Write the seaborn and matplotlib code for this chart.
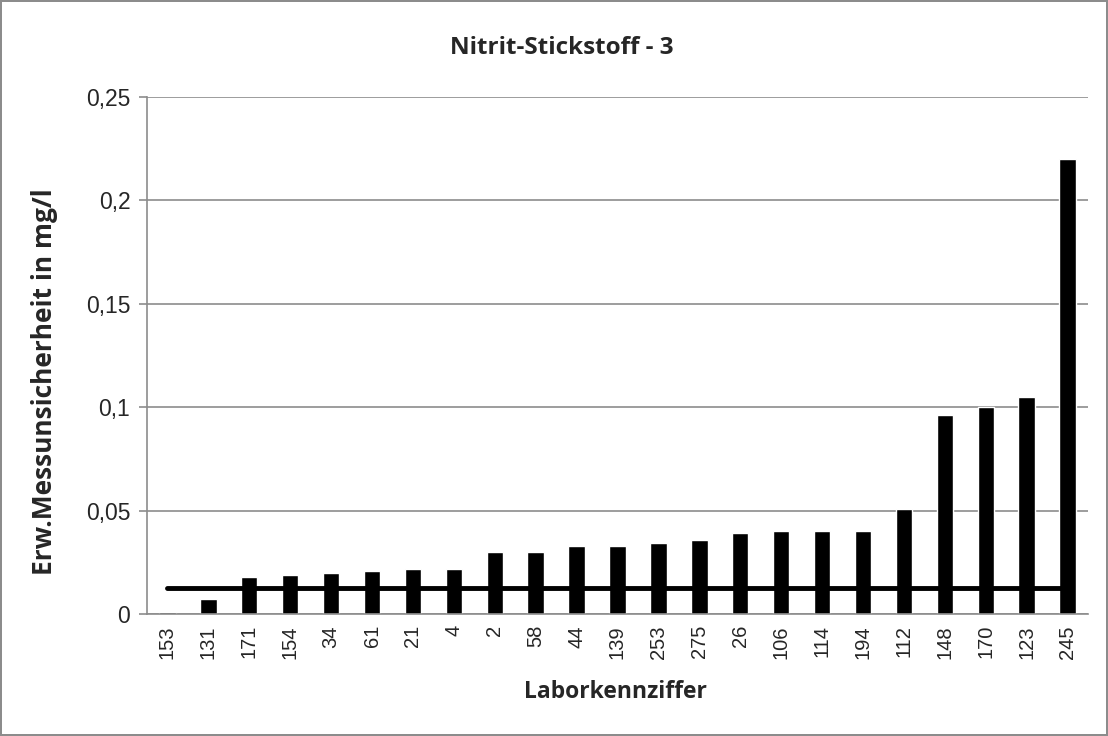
import pandas as pd
import matplotlib.pyplot as plt
import seaborn as sns

labs = ['153', '131', '171', '154', '34', '61', '21', '4', '2', '58', '44', '139',
        '253', '275', '26', '106', '114', '194', '112', '148', '170', '123', '245']
werte = [0.001, 0.0074, 0.018, 0.019, 0.020, 0.021, 0.0217, 0.022, 0.0298, 0.0298,
         0.0327, 0.0327, 0.0345, 0.036, 0.039, 0.040, 0.040, 0.040, 0.051, 0.096,
         0.100, 0.105, 0.220]
grenze = 0.0126
yticks = [0, 0.05, 0.1, 0.15, 0.2, 0.25]
ytick_labels = ['0', '0,05', '0,1', '0,15', '0,2', '0,25']

df = pd.DataFrame({'Labor': labs, 'Wert': werte})

sns.set_style('white')
plt.rcParams['font.family'] = ['Liberation Sans', 'DejaVu Sans']
bold_font = ['Open Sans', 'DejaVu Sans']

W, H = 1108, 736
fig = plt.figure(figsize=(W / 100, H / 100), dpi=100)
fig.patch.set_edgecolor('#8c8c8c')
fig.patch.set_linewidth(1.5)
ax = fig.add_axes([147 / W, 1 - 614 / H, 941 / W, 517 / H])

sns.barplot(data=df, x='Labor', y='Wert', order=labs, color='black', width=0.4,
            saturation=1, ax=ax)
ax.hlines(grenze, 0, len(labs) - 1, color='black', linewidth=3.5, zorder=1,
          capstyle='round')

ax.set_xlim(-0.5, len(labs) - 0.5)
ax.set_ylim(0, 0.25)
ax.set_yticks(yticks)
ax.set_yticklabels(ytick_labels, fontsize=16.5)
ax.yaxis.grid(True, color='#8c8c8c', linewidth=1.2)
ax.set_axisbelow(True)

# Excel-style ticks between categories
ax.set_xticks(range(len(labs)))
ax.set_xticklabels(labs, rotation=90, fontsize=14.5)
ax.tick_params(axis='x', length=0, pad=8)
ax.set_xticks([i - 0.5 for i in range(len(labs) + 1)], minor=True)
ax.tick_params(axis='x', which='minor', length=6, color='#8c8c8c', width=1.2)
ax.tick_params(axis='y', length=6, color='#8c8c8c', width=1.2, left=True, pad=6)

for s in ['top', 'right']:
    ax.spines[s].set_visible(False)
for s in ['left', 'bottom']:
    ax.spines[s].set_color('#8c8c8c')
    ax.spines[s].set_linewidth(1.2)

ax.set_xlabel('')
ax.set_ylabel('')
fig.text(615 / W, 1 - 698 / H, 'Laborkennziffer', ha='center', va='baseline',
         fontsize=16.5, fontweight='bold', family=bold_font)
fig.text(45 / W, 1 - 382 / H, 'Erw.Messunsicherheit in mg/l', ha='center',
         va='center', rotation=90, rotation_mode='anchor',
         fontsize=19, fontweight='bold', family=bold_font)
fig.text(562 / W, 1 - 54 / H, 'Nitrit-Stickstoff - 3', ha='center', va='baseline',
         fontsize=17.5, fontweight='bold', family=bold_font)

fig.savefig('out.png', dpi=100, edgecolor=fig.get_edgecolor())
